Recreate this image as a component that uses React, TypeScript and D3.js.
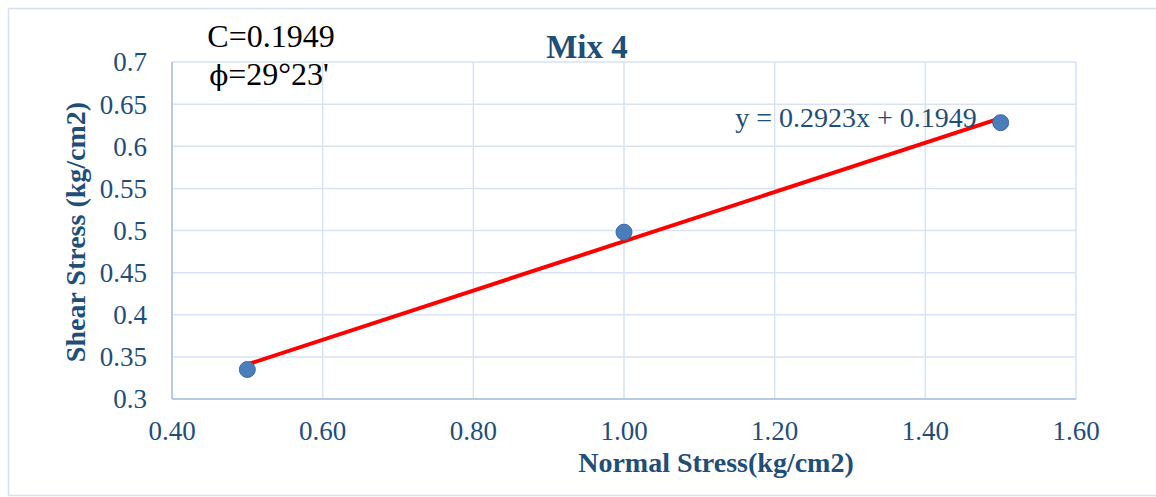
import React, { useEffect, useRef } from "react";
import * as d3 from "d3";

// values
const normalStress = [0.5, 1.0, 1.5];
const shearStress = [0.335, 0.498, 0.628];
const xTicks = [0.4, 0.6, 0.8, 1.0, 1.2, 1.4, 1.6];
const yTicks = [0.3, 0.35, 0.4, 0.45, 0.5, 0.55, 0.6, 0.65, 0.7];
const trendSlope = 0.2923;
const trendIntercept = 0.1949;
const trendRange = [0.5, 1.5];

const App = () => {
  const svgRef = useRef<SVGSVGElement>(null);

  useEffect(() => {
    const width = 1156,
      height = 497;
    const left = 172,
      right = 1076,
      top = 62,
      bottom = 399;
    const blue = "#1f4e79",
      gridColor = "#d9e2f3",
      axisColor = "#a9bfe3",
      font = "'Liberation Serif', 'Times New Roman', serif";

    const svg = d3
      .select(svgRef.current)
      .attr("width", width)
      .attr("height", height)
      .html("");

    // outer chart border
    svg
      .append("rect")
      .attr("x", 8.5)
      .attr("y", 8.5)
      .attr("width", 1160)
      .attr("height", 487)
      .attr("fill", "#fff")
      .attr("stroke", "#d6e0f0")
      .attr("stroke-width", 1.5);

    const x = d3.scaleLinear().domain([0.4, 1.6]).range([left, right]);
    const y = d3.scaleLinear().domain([0.3, 0.7]).range([bottom, top]);

    // gridlines
    const grid = svg.append("g");
    grid
      .selectAll("line.h")
      .data(yTicks)
      .enter()
      .append("line")
      .attr("x1", left)
      .attr("x2", right)
      .attr("y1", (d) => y(d))
      .attr("y2", (d) => y(d))
      .attr("stroke", gridColor)
      .attr("stroke-width", 1.5);
    grid
      .selectAll("line.v")
      .data(xTicks)
      .enter()
      .append("line")
      .attr("x1", (d) => x(d))
      .attr("x2", (d) => x(d))
      .attr("y1", top)
      .attr("y2", bottom)
      .attr("stroke", gridColor)
      .attr("stroke-width", 1.5);

    // axis lines
    svg
      .append("line")
      .attr("x1", left)
      .attr("x2", left)
      .attr("y1", top)
      .attr("y2", bottom)
      .attr("stroke", axisColor)
      .attr("stroke-width", 1.5);
    svg
      .append("line")
      .attr("x1", left)
      .attr("x2", right)
      .attr("y1", bottom)
      .attr("y2", bottom)
      .attr("stroke", axisColor)
      .attr("stroke-width", 1.5);

    // tick labels
    svg
      .append("g")
      .selectAll("text")
      .data(yTicks)
      .enter()
      .append("text")
      .attr("x", left - 25)
      .attr("y", (d) => y(d))
      .attr("dy", "0.35em")
      .attr("text-anchor", "end")
      .style("font-family", font)
      .style("font-size", "27px")
      .attr("fill", blue)
      .text((d) => String(d));

    svg
      .append("g")
      .selectAll("text")
      .data(xTicks)
      .enter()
      .append("text")
      .attr("x", (d) => x(d))
      .attr("y", 440)
      .attr("text-anchor", "middle")
      .style("font-family", font)
      .style("font-size", "27px")
      .attr("fill", blue)
      .text((d) => d.toFixed(2));

    // trendline
    svg
      .append("line")
      .attr("x1", x(trendRange[0]))
      .attr("y1", y(trendSlope * trendRange[0] + trendIntercept))
      .attr("x2", x(trendRange[1]))
      .attr("y2", y(trendSlope * trendRange[1] + trendIntercept))
      .attr("stroke", "#ff0000")
      .attr("stroke-width", 4)
      .attr("stroke-linecap", "round");

    // points
    svg
      .append("g")
      .selectAll("circle")
      .data(normalStress)
      .enter()
      .append("circle")
      .attr("cx", (d) => x(d))
      .attr("cy", (d, i) => y(shearStress[i]))
      .attr("r", 8)
      .attr("fill", "#4a7ebb")
      .attr("stroke", "#3d6aa3")
      .attr("stroke-width", 1);

    // equation label
    svg
      .append("text")
      .attr("x", 856)
      .attr("y", 127)
      .attr("text-anchor", "middle")
      .style("font-family", font)
      .style("font-size", "28px")
      .attr("fill", blue)
      .text(`y = ${trendSlope}x + ${trendIntercept}`);

    // title
    svg
      .append("text")
      .attr("x", 587)
      .attr("y", 58)
      .attr("text-anchor", "middle")
      .style("font-family", font)
      .style("font-size", "33px")
      .style("font-weight", "bold")
      .attr("fill", blue)
      .text("Mix 4");

    // axis titles
    svg
      .append("text")
      .attr("x", 716)
      .attr("y", 472)
      .attr("text-anchor", "middle")
      .style("font-family", font)
      .style("font-size", "28px")
      .style("font-weight", "bold")
      .attr("fill", blue)
      .text("Normal Stress(kg/cm2)");

    svg
      .append("text")
      .attr("transform", "translate(85, 232) rotate(-90)")
      .attr("text-anchor", "middle")
      .style("font-family", font)
      .style("font-size", "28px")
      .style("font-weight", "bold")
      .attr("fill", blue)
      .text("Shear Stress (kg/cm2)");

    // annotation text
    svg
      .append("text")
      .attr("x", 271)
      .attr("y", 47)
      .attr("text-anchor", "middle")
      .style("font-family", "'Liberation Serif', serif")
      .style("font-size", "32px")
      .attr("fill", "#000")
      .text("C=0.1949");
    const phi = svg
      .append("text")
      .attr("x", 269)
      .attr("y", 85)
      .attr("text-anchor", "middle")
      .style("font-family", "'Liberation Serif', serif")
      .style("font-size", "32px")
      .attr("fill", "#000");
    phi
      .append("tspan")
      .style("font-family", "'DejaVu Serif', serif")
      .style("font-size", "28px")
      .text("\u03d5");
    phi.append("tspan").text("=29\u00b023'");
  }, []);

  return (
    <svg
      ref={svgRef}
      style={{ position: "absolute", left: 0, top: 0, display: "block" }}
    ></svg>
  );
};

export default App;
